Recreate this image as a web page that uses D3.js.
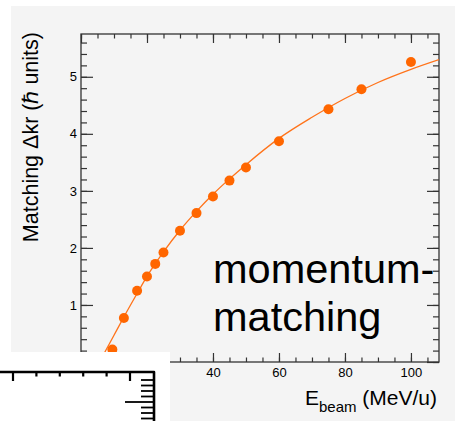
<!DOCTYPE html>
<html>
<head>
<meta charset="utf-8">
<script src="https://cdn.jsdelivr.net/npm/d3@7"></script>
<style>
  body { margin: 0; background: #fff; }
  text { font-family: "Liberation Sans", Arial, Helvetica, sans-serif; fill: #000; }
  .axis text { font-size: 13px; }
  .axis path { display: none; }
  .axis line { stroke: #333; stroke-width: 1.2; }
</style>
</head>
<body>
<div id="chart"></div>
<script>
// beam energy (MeV/u) and matching value of the points
var energies = [9.5, 13, 17, 20, 22.5, 25, 30, 35, 40, 45, 50, 60, 75, 85, 100];
var matching = [0.22, 0.77, 1.25, 1.5, 1.72, 1.92, 2.3, 2.61, 2.9, 3.18, 3.41, 3.87, 4.43, 4.78, 5.26];

// fitted curve
var fitEnergies = [5.6, 10, 13, 17, 20, 25, 30, 35, 40, 45, 50, 60, 70, 80, 90, 100, 108.5];
var fitMatching = [0, 0.47, 0.79, 1.2, 1.5, 1.93, 2.31, 2.64, 2.94, 3.21, 3.46, 3.92, 4.29, 4.62, 4.9, 5.13, 5.3];

var xMajor = [0, 20, 40, 60, 80, 100];
var yMajor = [0, 1, 2, 3, 4, 5];

// ticks of the neighbouring panel in the corner
var insetXMajor = [0, 1];
var insetYMajor = [0];

var width = 455;
var height = 421;

var svg = d3
  .select("#chart")
  .append("svg")
  .attr("width", width)
  .attr("height", height);

svg
  .append("rect")
  .attr("x", 11)
  .attr("y", 6)
  .attr("width", width - 11)
  .attr("height", height - 6)
  .attr("fill", "#f4f4f4");

var x = d3.scaleLinear().domain([0, 108.5]).range([81, 439]);
var y = d3.scaleLinear().domain([0, 5.75]).range([362, 34]);

var xMinor = d3.range(0, 108.5, 5);
var yMinor = d3.range(0, 5.75, 0.2);
var fmt = d3.format("d");

var addAxis = function(axis, tx, ty, withLabels) {
  var g = svg
    .append("g")
    .attr("class", "axis")
    .attr("transform", "translate(" + tx + "," + ty + ")")
    .call(axis);
  if (!withLabels) g.selectAll("text").remove();
  return g;
};

// bottom
addAxis(d3.axisBottom(x).tickValues(xMinor).tickSize(-4.5).tickSizeOuter(0), 0, 362, false);
addAxis(d3.axisBottom(x).tickValues(xMajor).tickSize(-9).tickSizeOuter(0).tickPadding(6).tickFormat(fmt), 0, 362, true);
// top
addAxis(d3.axisTop(x).tickValues(xMinor).tickSize(-4.5).tickSizeOuter(0), 0, 34, false);
addAxis(d3.axisTop(x).tickValues(xMajor).tickSize(-9).tickSizeOuter(0), 0, 34, false);
// left
addAxis(d3.axisLeft(y).tickValues(yMinor).tickSize(-6).tickSizeOuter(0), 81, 0, false);
addAxis(d3.axisLeft(y).tickValues(yMajor).tickSize(-12).tickSizeOuter(0).tickPadding(4).tickFormat(fmt), 81, 0, true);
// right
addAxis(d3.axisRight(y).tickValues(yMinor).tickSize(-6).tickSizeOuter(0), 439, 0, false);
addAxis(d3.axisRight(y).tickValues(yMajor).tickSize(-12).tickSizeOuter(0), 439, 0, false);

svg
  .append("rect")
  .attr("x", x(0))
  .attr("y", y(5.75))
  .attr("width", x(108.5) - x(0))
  .attr("height", y(0) - y(5.75))
  .attr("fill", "none")
  .attr("stroke", "#333")
  .attr("stroke-width", 1.3);

svg
  .append("clipPath")
  .attr("id", "frame")
  .append("rect")
  .attr("x", x(0))
  .attr("y", y(5.75))
  .attr("width", x(108.5) - x(0))
  .attr("height", y(0) - y(5.75));

var fit = fitEnergies.map(function(e, i) {
  return [e, fitMatching[i]];
});

var line = d3
  .line()
  .x(function(d) {
    return x(d[0]);
  })
  .y(function(d) {
    return y(d[1]);
  })
  .curve(d3.curveMonotoneX);

svg
  .append("path")
  .datum(fit)
  .attr("clip-path", "url(#frame)")
  .attr("d", line)
  .attr("fill", "none")
  .attr("stroke", "#ff731a")
  .attr("stroke-width", 1.3);

svg
  .append("g")
  .selectAll("circle")
  .data(energies)
  .enter()
  .append("circle")
  .attr("cx", function(d) {
    return x(d);
  })
  .attr("cy", function(d, i) {
    return y(matching[i]);
  })
  .attr("r", 5)
  .attr("fill", "#ff6600");

// axis titles
svg
  .append("text")
  .attr("transform", "translate(38,32) rotate(-90)")
  .attr("text-anchor", "end")
  .style("font-size", "21.5px")
  .text("Matching \u0394kr (\u210F units)");

var xTitle = svg
  .append("text")
  .attr("x", 437)
  .attr("y", 405)
  .attr("text-anchor", "end")
  .style("font-size", "21px");
xTitle.append("tspan").text("E");
xTitle
  .append("tspan")
  .attr("dy", 7)
  .style("font-size", "15px")
  .text("beam");
xTitle
  .append("tspan")
  .attr("dy", -7)
  .text(" (MeV/u)");

// annotation
svg
  .append("text")
  .attr("x", 213)
  .attr("y", 283)
  .style("font-size", "41.5px")
  .text("momentum-");
svg
  .append("text")
  .attr("x", 213)
  .attr("y", 331)
  .style("font-size", "41.5px")
  .text("matching");

// neighbouring panel in the lower left corner
svg
  .append("rect")
  .attr("x", 0)
  .attr("y", 352)
  .attr("width", 170)
  .attr("height", height - 352)
  .attr("fill", "#fff");

var ix = d3.scaleLinear().domain([0, 1]).range([13, 130]);
var iy = d3.scaleLinear().domain([0, 1]).range([402, 374.5]);

var isMajor = function(list, d) {
  return list.some(function(m) {
    return Math.abs(m - d) < 1e-6;
  });
};

var inset = svg.append("g");
inset
  .selectAll("line.itx")
  .data(d3.range(0, 1.01, 0.2))
  .enter()
  .append("line")
  .attr("x1", function(d) {
    return ix(d);
  })
  .attr("x2", function(d) {
    return ix(d);
  })
  .attr("y1", 372)
  .attr("y2", function(d) {
    return isMajor(insetXMajor, d) ? 381 : 376.5;
  })
  .attr("stroke", "#000")
  .attr("stroke-width", 2.2);

inset
  .selectAll("line.ity")
  .data(d3.range(-0.6, 0.81, 0.2))
  .enter()
  .append("line")
  .attr("y1", function(d) {
    return iy(d);
  })
  .attr("y2", function(d) {
    return iy(d);
  })
  .attr("x1", 154)
  .attr("x2", function(d) {
    return isMajor(insetYMajor, d) ? 125 : 141;
  })
  .attr("stroke", "#000")
  .attr("stroke-width", 1.8);

inset
  .append("path")
  .attr("d", "M0,372H154V421")
  .attr("fill", "none")
  .attr("stroke", "#000")
  .attr("stroke-width", 2.6)
  .attr("stroke-linejoin", "round");
</script>
</body>
</html>
